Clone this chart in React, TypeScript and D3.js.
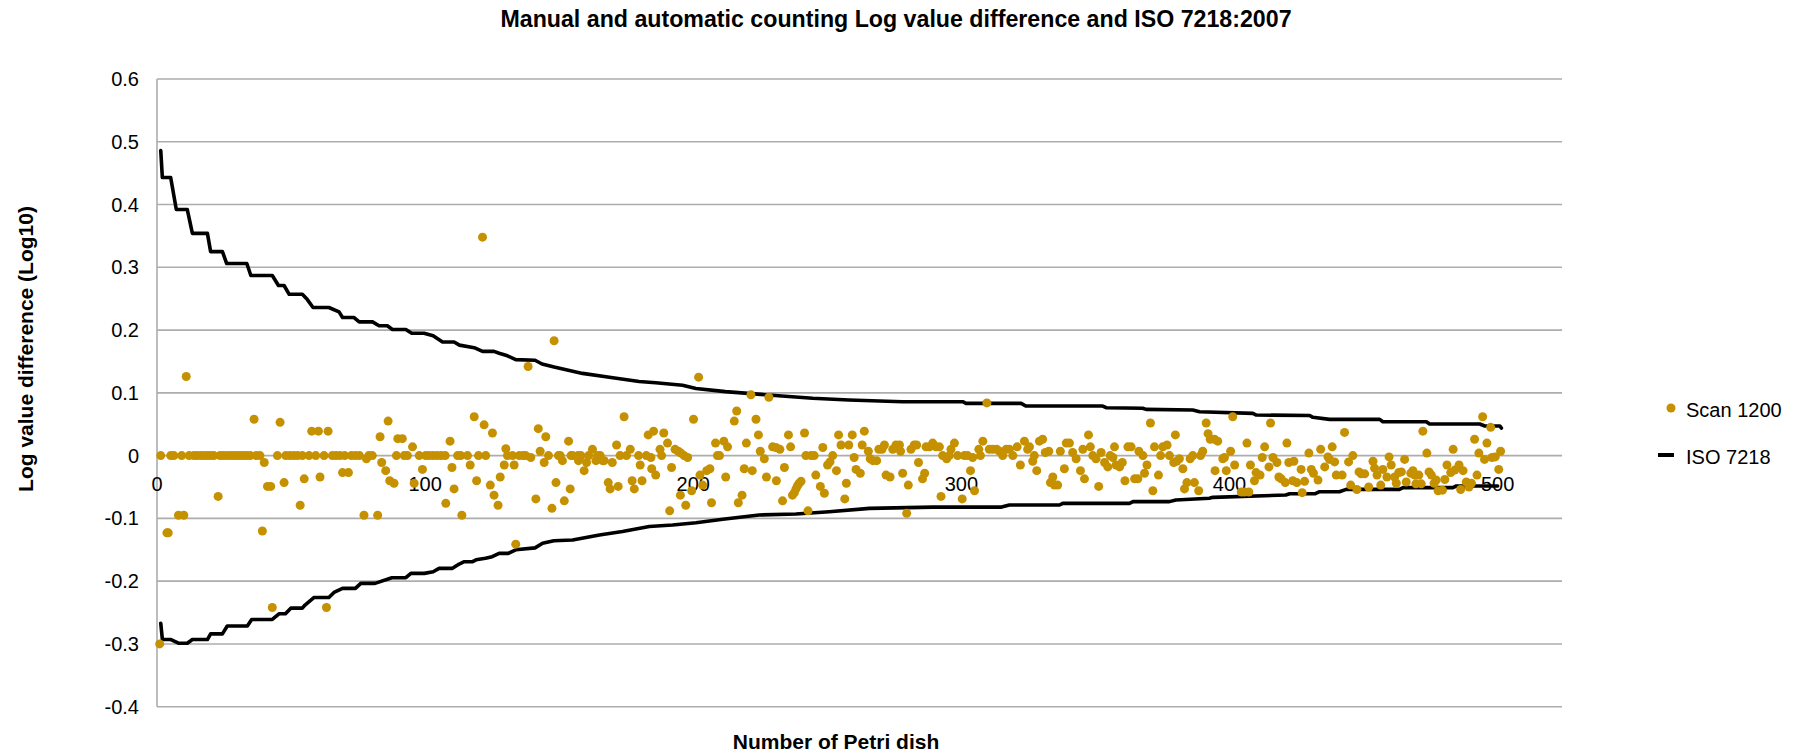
import React from "react";
import * as d3 from "d3";

const TITLE = "Manual and automatic counting Log value difference and ISO 7218:2007";
const X_TITLE = "Number of Petri dish";
const Y_TITLE = "Log value difference (Log10)";
const SERIES_NAMES = ["Scan 1200", "ISO 7218"];
const Y_TICKS = [0.6, 0.5, 0.4, 0.3, 0.2, 0.1, 0, -0.1, -0.2, -0.3, -0.4];
const X_TICKS = [0, 100, 200, 300, 400, 500];

// Scan 1200: [Petri dish number, log value difference]
const scan1200: [number, number][] = [
  [1,-0.300],[1.4,0],[3.7,-0.123],[4.2,-0.123],[5.1,0],[6.3,0],[8,-0.095],[9.2,0],[10,-0.095],[10.9,0.126],
  [12,0],[13.8,0],[15,0],[16.3,0],[17.5,0],[18.8,0],[20,0],[21.2,0],[22.8,-0.065],[23.5,0],[24.7,0],[26,0],
  [27.3,0],[28.5,0],[29.8,0],[31,0],[32.3,0],[33.5,0],[34.8,0],[36.2,0.058],[37,0],[38.4,0],[39.3,-0.120],
  [40,-0.011],[41.2,-0.049],[42.4,-0.049],[43,-0.242],[44.9,0],[45.9,0.053],[47.4,-0.043],[48,0],[49.5,0],
  [51,0],[52.4,0],[53.4,-0.079],[54.2,0],[54.9,-0.037],[56.7,0],[57.7,0.039],[59.2,0],[60.2,0.039],[60.8,-0.034],
  [62.3,0],[63.2,-0.242],[63.8,0.039],[65.4,0],[66.8,0],[68.2,0],[69.2,-0.027],[70,0],[71.4,-0.027],[72.5,0],
  [74,0],[75.5,0],[77.2,-0.095],[78.1,-0.005],[79,0],[80.3,0],[82.3,-0.095],[83.2,0.030],[83.8,-0.011],
  [85.3,-0.024],[86.2,0.055],[86.8,-0.040],[88.4,-0.044],[89.3,0],[89.8,0.027],[91.5,0.027],[92.2,0],[93.4,0],
  [95.3,0.014],[95.9,-0.044],[97.8,0],[99,-0.022],[100.2,0],[101.5,0],[103,0],[104.5,0],[106,0],[107.5,0],
  [107.7,-0.076],[109.3,0.023],[110,-0.019],[110.8,-0.053],[112.1,0],[113.3,0],[113.7,-0.095],[115.8,0],
  [116.8,-0.015],[118.3,0.062],[119.2,-0.040],[119.9,0],[121.4,0.348],[122,0.049],[122.6,0],[124.3,-0.047],
  [125.1,0.036],[125.7,-0.063],[127.2,-0.079],[128,-0.034],[129.5,-0.015],[130.1,0.011],[130.7,0],[132.6,0],
  [133.2,-0.015],[133.8,-0.141],[135.1,0],[136.5,0],[137.5,0],[138.4,0.142],[139.4,-0.003],[141.3,-0.069],
  [142.2,0.043],[142.9,0.007],[144.4,-0.011],[145,0.030],[146,0],[147.3,-0.084],[148.1,0.183],[148.8,-0.043],
  [149.7,0],
  [150.4,0],[151.2,-0.008],[151.9,-0.072],[153.5,0.023],[154.1,-0.053],[154.4,0],[155,0],[157,0],[157.2,-0.008],
  [158.1,0],[159.3,-0.024],[160.2,-0.011],[161,0],[162.4,0.010],[163.7,-0.008],[164.3,0],[165.3,0],[166.2,-0.008],
  [166.8,-0.008],[168.3,-0.043],[169,-0.053],[169.8,-0.011],[171.4,0.017],[172,-0.049],[172.7,0],[174.2,0.062],
  [175.1,0],[176.5,0.010],[177.2,-0.040],[178,-0.053],[179.6,0],[180.2,-0.015],[180.9,-0.040],[182.5,0],
  [183.2,0.033],[184.2,-0.003],[184.5,-0.021],[185.2,0.039],[186,-0.031],[187.6,0.010],[188.2,0],[189,0.036],
  [190.4,0.020],[191.2,-0.088],[191.9,-0.019],[193.2,0.010],[194.4,0.007],[195.2,-0.063],[195.4,0.004],
  [196.6,0],[197.2,-0.079],[197.9,-0.003],[199.4,-0.056],[200.1,0.058],[202,0.125],[202.5,-0.031],[203.5,-0.047],
  [205,-0.024],[206.2,-0.021],[206.8,-0.075],[208.3,0.020],[209,0],[209.8,0],[211.4,0.023],[212.1,-0.034],
  [212.8,0.014],[215.3,0.055],[216.2,0.071],[216.8,-0.075],[218.2,-0.063],[219,-0.021],[219.8,0.020],
  [221.5,0.097],[222,-0.024],[223.4,0.058],[224.3,0.033],[225,0.007],[226.5,-0.005],[227.3,-0.034],[228.2,0.093],
  [229.6,0.014],[230.8,0.013],[231,-0.040],[232.3,0.010],[233.3,-0.072],[234,-0.019],[235.5,0.033],[236.3,0.014],
  [237,-0.063],[237.7,-0.059],[238.3,-0.053],[238.9,-0.048],[239.5,-0.044],[240.2,-0.041],[241.5,0.036],[242,0],
  [242.8,-0.088],[243.9,0],[245.1,0],[245.7,-0.031],[247.4,-0.049],[248.3,0.013],[248.9,-0.060],[250.1,-0.015],
  [251,-0.010],[252,0],[253.4,-0.024],[254.2,0.033],[255.1,0.017],[256.5,-0.069],[257.1,-0.044],[258,0.017],
  [259.3,0.033],[260,-0.003],[260.7,-0.022],[262.3,-0.028],[263,0.017],[263.8,0.039],[265.3,0.007],[266,-0.005],
  [267,-0.008],[268.4,-0.008],[269.2,0.010],[270.4,0.010],[271.3,0.017],[271.9,-0.031],[273.4,-0.034],[274.4,0.010],
  [275.6,0.017],[276.9,0.017],[277.3,0.007],[278.1,-0.028],[279.6,-0.092],[280.2,-0.047],[281.2,0.010],[282.4,0.017],
  [283.3,0.017],[284,-0.011],[285.5,-0.037],[286.3,-0.028],[286.8,0.014],[288.1,0.014],[289.3,0.020],[290.5,0.014],
  [291.8,0.014],[292.4,-0.065],[293,0],[294.5,-0.005],[295.5,0],[296.1,0.010],[297.4,0.020],[298.6,0],
  [300.3,-0.069],[301.1,0],[302.3,0],[303.4,-0.024],[304.2,-0.003],[304.9,-0.056],[306.5,0.010],[307.1,0],
  [308,0.023],[309.5,0.084],[310.4,0.010],[311.7,0.010],[313.2,0.010],[314.2,0.007],[315.4,0],[316.7,0.010],
  [317.9,0.010],[319.2,0],[320.8,0.014],[322,-0.015],[323.5,0.023],[324.7,0.010],[325.4,0.014],[326.6,-0.009],
  [327.2,0],[328.1,-0.024],[329.1,0.023],[330.3,0.026],[331.3,0.005],[332.6,0.007],[333.2,-0.043],[334.1,-0.034],
  [334.7,-0.047],[335.9,-0.047],[336.9,0.007],[338.4,-0.021],[339.1,0.020],[340.3,0.020],[341.5,0.005],
  [342.8,-0.005],[344.4,-0.024],[345.3,0.010],[345.9,-0.037],[347.4,0.033],[348.1,0.014],[349,0],[350.2,-0.005],
  [351.2,-0.049],[352.1,0.005],[353.4,-0.011],[354.6,-0.018],[355.5,0],[356.5,-0.003],[357.1,0.014],[357.7,-0.015],
  [359,-0.018],[360,-0.011],[361,-0.040],[362.1,0.014],[363.3,0.014],[364.6,-0.037],[365.8,-0.037],[366.2,0.007],
  [367.7,0],[368.3,-0.028],[369.2,-0.015],[370.5,0.052],[371.4,-0.056],[372,0.014],[373.5,-0.031],[374.3,0],
  [375.1,0.014],[376.7,0.017],[377.6,0],[379.2,-0.011],[379.8,0.033],[380.3,-0.009],[381.3,-0.005],[382.6,-0.021],
  [383.2,-0.053],[384.1,-0.043],[385.3,-0.005],[386.3,0],[386.9,-0.043],[388.5,-0.056],[389.2,0],[390,0.007],
  [391.3,0.052],[392,0.035],[392.8,0.026],[394.4,0.026],[394.6,-0.024],[395.6,0.023],[397.5,-0.005],[398.1,-0.003],
  [398.8,-0.024],[400.4,0.007],[401.2,0.062],[401.9,-0.015],[404.4,-0.058],[405.6,-0.058],[406.5,0.020],
  [407.2,-0.058],[407.8,-0.015],[409.3,-0.040],[409.9,-0.027],[411.4,-0.031],[412.2,-0.003],[413.1,0.014],
  [414.7,-0.018],[415.3,0.052],[416.2,-0.003],[417.7,-0.011],[418.4,-0.034],[419.3,-0.037],[420.8,-0.043],
  [421.4,0.020],[422.1,-0.011],[423.6,-0.040],[424,-0.009],[425.1,-0.043],
  [426.7,-0.022],[427.1,-0.059],[428,-0.041],[429.6,0.004],[430.5,-0.022],[431.3,-0.028],[433,-0.039],[434,0.010],
  [435.5,-0.018],[436.7,-0.002],[437.3,-0.006],[438.3,0.014],[439.2,-0.010],[439.8,-0.031],[442,-0.031],
  [442.9,0.037],[444.4,-0.010],[445.2,-0.047],[446,0],[447.5,-0.054],[448.3,-0.026],[449.1,-0.029],[450.4,-0.029],
  [451.9,-0.050],[453.5,-0.009],[454.1,-0.020],[455,-0.031],[456.4,-0.047],[457.2,-0.022],[458.7,-0.034],
  [459.5,-0.002],[460.3,-0.015],[461.6,-0.034],[462.2,-0.044],[463.1,-0.027],[464.1,-0.026],[465.3,-0.006],
  [465.9,-0.042],[467.6,-0.028],[468.4,-0.024],[469.1,-0.031],[469.5,-0.045],[470.6,-0.031],[471.5,-0.045],
  [472.1,0.039],[473.6,0.004],[474.4,-0.026],[475.3,-0.031],[476.3,-0.044],[477.1,-0.039],[477.8,-0.056],
  [479.4,-0.055],[480.3,-0.038],[481.1,-0.015],[482.5,-0.027],[483.4,0.010],[484,-0.023],[485.6,-0.015],
  [486.2,-0.054],[487.1,-0.024],[488.3,-0.042],[489.3,-0.050],[490.2,-0.044],[491.4,0.026],[492.3,-0.031],
  [493,0.004],[494.4,0.062],[495.1,-0.006],[496,0.020],[497.4,0.045],[497.9,-0.003],[499.1,-0.002],[500.4,-0.022],
  [501.1,0.007],
];

// ISO 7218 upper limit: [Petri dish number, limit]
const isoUpper: [number, number][] = [
  [1.4,0.486],[2,0.443],[5.1,0.443],[7.2,0.392],[11.3,0.392],[13.2,0.354],[18.8,0.354],[20,0.325],[24.4,0.325],
  [26,0.306],[33.5,0.306],[35,0.287],[43,0.287],[45.3,0.271],[47.4,0.271],[49.3,0.257],[54.2,0.257],[56,0.249],
  [58.2,0.236],[64.1,0.236],[67.9,0.229],[69.2,0.220],[73.5,0.220],[75.4,0.213],[80.4,0.213],[82.8,0.207],
  [85.9,0.207],[87.8,0.201],[92.8,0.201],[95,0.195],[99.6,0.195],[103,0.191],[106.5,0.181],[110.8,0.181],
  [112.8,0.176],[118.3,0.172],[121.4,0.166],[125.7,0.166],[127.6,0.163],[130.7,0.159],[133.8,0.153],[141,0.152],
  [143.6,0.146],[148.1,0.141],[158.7,0.131],[168.7,0.125],[179.8,0.118],[186,0.116],[196,0.112],[201,0.107],
  [212,0.102],[228,0.0966],[244.5,0.0913],[258,0.0886],[278,0.0859],[300.5,0.0859],[301.7,0.0833],[322.3,0.0833],
  [324,0.079],[352.7,0.079],[354,0.0763],[367.6,0.0755],[368.9,0.0737],[386.3,0.0726],[388.8,0.070],[408.7,0.0673],
  [410,0.0646],[429.9,0.0640],[431.1,0.061],[437.3,0.0578],[456,0.0578],[457.2,0.054],[473.4,0.054],[474.6,0.0504],
  [493.3,0.0504],[495.2,0.0472],[500.8,0.0472],[501.4,0.044],
];

// ISO 7218 lower limit: [Petri dish number, limit]
const isoLower: [number, number][] = [
  [1.4,-0.267],[2,-0.293],[5.2,-0.293],[8.2,-0.299],[11.3,-0.299],[13.2,-0.293],[18.8,-0.293],[20,-0.284],
  [24.4,-0.284],[26.2,-0.2715],[33.7,-0.2715],[35.3,-0.261],[43,-0.261],[45.5,-0.252],[47.9,-0.252],[49.9,-0.243],
  [54.2,-0.243],[55.2,-0.238],[58.6,-0.226],[64.1,-0.226],[66,-0.218],[69.2,-0.2115],[74,-0.2115],[76,-0.2035],
  [81.3,-0.2035],[87.6,-0.1945],[92.8,-0.1945],[94.7,-0.1876],[99.7,-0.1876],[103,-0.185],[105.2,-0.1796],
  [110.2,-0.1796],[112.7,-0.1727],[114.6,-0.169],[117.7,-0.169],[119,-0.166],[122.5,-0.1636],[125,-0.161],
  [127.6,-0.1557],[131,-0.1557],[133.8,-0.150],[141,-0.147],[143.8,-0.1397],[148,-0.1356],[155,-0.1345],
  [165,-0.1265],[173.6,-0.121],[183.6,-0.113],[192.3,-0.1106],[201,-0.107],[211,-0.1015],[224.6,-0.0946],
  [238.3,-0.093],[250.7,-0.0893],[265.7,-0.084],[289.3,-0.082],[315,-0.082],[317.9,-0.0787],[336.6,-0.0787],
  [337.8,-0.076],[362.7,-0.076],[364,-0.0733],[377.6,-0.0733],[380,-0.0707],[392.5,-0.068],[393.8,-0.0665],
  [421,-0.0627],[422.4,-0.0607],[432,-0.0607],[433.6,-0.0575],[441,-0.0575],[443.5,-0.0537],[463.4,-0.0537],
  [464.7,-0.051],[483.3,-0.051],[484.6,-0.0484],[500,-0.0484],
];

const W = 1793;
const H = 752;
const FONT = "'Liberation Sans', Arial, Helvetica, sans-serif";
const DOT = "#C59100";
const GRID = "#ADADAD";

export default function App() {
  const x = d3.scaleLinear().domain([0, 524]).range([157, 1562]);
  const y = d3.scaleLinear().domain([-0.4, 0.6]).range([706.7, 79]);
  const line = d3
    .line<[number, number]>()
    .x((d) => x(d[0]))
    .y((d) => y(d[1]));
  const fmt = (v: number) => (v === 0 ? "0" : v.toFixed(1));

  return (
    <svg
      width={W}
      height={H}
      viewBox={`0 0 ${W} ${H}`}
      style={{ position: "absolute", left: 0, top: 0, background: "#fff" }}
      fontFamily={FONT}
    >
      <rect x={0} y={0} width={W} height={H} fill="#fff" />
      <text x={896} y={27} textAnchor="middle" fontSize={23.2} fontWeight="bold" fill="#000">
        {TITLE}
      </text>

      {/* gridlines */}
      {Y_TICKS.map((t) => (
        <line key={"g" + t} x1={x(0)} x2={1562} y1={y(t)} y2={y(t)} stroke={GRID} strokeWidth={1.6} />
      ))}
      <line x1={x(0)} x2={x(0)} y1={y(0.6)} y2={y(-0.4)} stroke={GRID} strokeWidth={1.6} />

      {/* y tick labels */}
      {Y_TICKS.map((t) => (
        <text key={"yl" + t} x={139} y={y(t)} dy="0.35em" textAnchor="end" fontSize={20} fill="#000">
          {fmt(t)}
        </text>
      ))}

      {/* x tick labels */}
      {X_TICKS.map((t) => (
        <text key={"xl" + t} x={x(t)} y={y(0) + 28} dy="0.35em" textAnchor="middle" fontSize={20} fill="#000">
          {t}
        </text>
      ))}

      {/* ISO lines */}
      <path d={line(isoUpper) || ""} fill="none" stroke="#000" strokeWidth={3.6} strokeLinejoin="round" strokeLinecap="round" />
      <path d={line(isoLower) || ""} fill="none" stroke="#000" strokeWidth={3.6} strokeLinejoin="round" strokeLinecap="round" />

      {/* scatter */}
      {scan1200.map((d, i) => (
        <circle key={"p" + i} cx={x(d[0])} cy={y(d[1])} r={4.5} fill={DOT} />
      ))}

      {/* axis titles */}
      <text x={836} y={749} textAnchor="middle" fontSize={21} fontWeight="bold" fill="#000">
        {X_TITLE}
      </text>
      <text
        transform={`translate(33, 349) rotate(-90)`}
        textAnchor="middle"
        fontSize={21}
        fontWeight="bold"
        fill="#000"
      >
        {Y_TITLE}
      </text>

      {/* legend */}
      <circle cx={1671} cy={408} r={4.5} fill={DOT} />
      <text x={1686} y={417} fontSize={20} fill="#000">
        {SERIES_NAMES[0]}
      </text>
      <line x1={1658} x2={1674} y1={455} y2={455} stroke="#000" strokeWidth={4} />
      <text x={1686} y={464} fontSize={20} fill="#000">
        {SERIES_NAMES[1]}
      </text>
    </svg>
  );
}
